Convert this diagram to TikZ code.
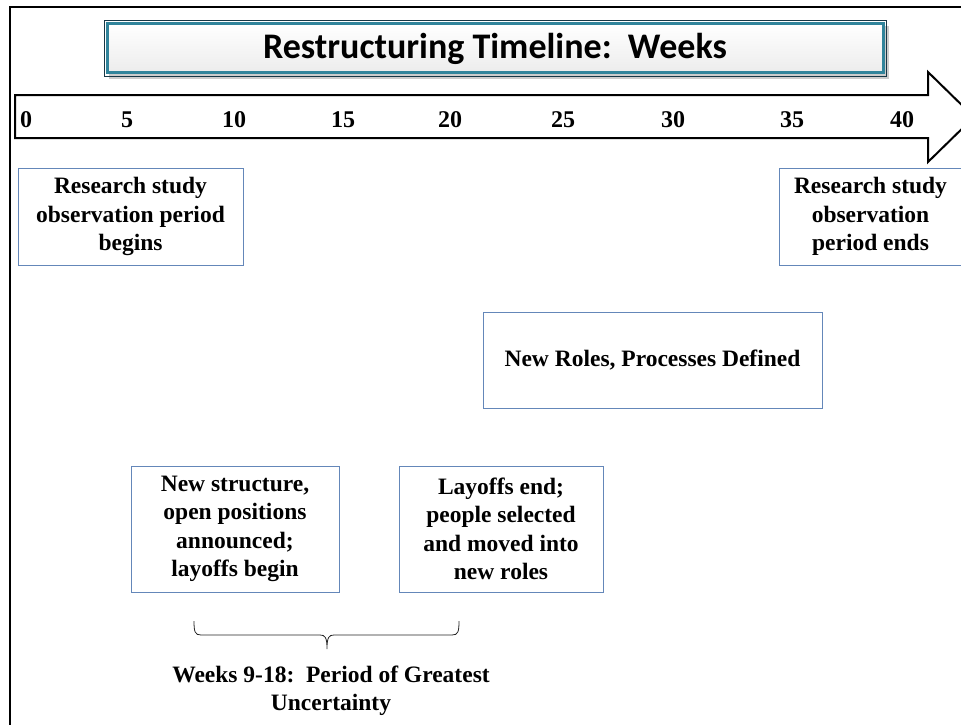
\documentclass[tikz,border=0pt]{standalone}
\usepackage{fontspec}
\setmainfont{Liberation Serif}
\newfontfamily\calibri{Carlito}
\definecolor{boxblue}{RGB}{100,135,185}
\definecolor{titleteal}{RGB}{49,132,155}
\definecolor{titledark}{RGB}{23,55,70}
\begin{document}
\begin{tikzpicture}[x=1pt,y=-1pt,
  evt/.style={draw=boxblue,line width=0.9pt,fill=white,align=center,
    font=\fontsize{23.5}{28.5}\selectfont\bfseries,inner sep=0pt},
  wk/.style={font=\fontsize{24}{28}\selectfont\bfseries,anchor=center,inner sep=0pt},
  titlebox/.style={draw=titleteal,line width=3pt,top color=white,bottom color=gray!15,
    font=\calibri\bfseries\fontsize{36}{40}\selectfont,inner sep=0pt},
  note/.style={align=center,font=\fontsize{23.5}{28.5}\selectfont\bfseries,inner sep=0pt}]
\useasboundingbox (0,0) rectangle (961,725);
\clip (0,0) rectangle (961,725);
% frame
\draw[line width=2pt] (10,740) -- (10,7) -- (980,7);
% title
\fill[gray!40] (109,26) rectangle (889,79);
\node[titlebox,minimum width=776pt,minimum height=49pt] (title) at (495,48.5)
  {Restructuring Timeline:\ \ Weeks};
\draw[titledark,line width=0.8pt] ([shift={(-1.6,1.6)}]title.south west) rectangle ([shift={(1.6,-1.6)}]title.north east);
% timeline arrow
\draw[line width=2pt,fill=white,line join=miter]
  (15,95) -- (928,95) -- (928,72) -- (974,117) -- (928,162) -- (928,138) -- (15,138) -- cycle;
\node[wk] (w0) at (26,120) {0};
\node[wk] (w5) at (127,120) {5};
\node[wk] (w10) at (234,120) {10};
\node[wk] (w15) at (343,120) {15};
\node[wk] (w20) at (450,120) {20};
\node[wk] (w25) at (563,120) {25};
\node[wk] (w30) at (673,120) {30};
\node[wk] (w35) at (792,120) {35};
\node[wk] (w40) at (902,120) {40};
% events
\node[evt,minimum width=225pt,minimum height=97pt] (begin) at (130.5,216.5)
  {Research study\\observation period\\begins};
\node[evt,minimum width=183pt,minimum height=97pt] (ends) at (870.5,216.5)
  {Research study\\observation\\period ends};
\node[evt,minimum width=339pt,minimum height=96pt] (roles) at (652.5,360)
  {New Roles, Processes Defined};
\node[evt,minimum width=208pt,minimum height=126pt] (struct) at (235,529)
  {New structure,\\open positions\\announced;\\layoffs begin};
\node[evt,minimum width=204pt,minimum height=126pt] (layoff) at (501,529)
  {Layoffs end;\\people selected\\and moved into\\new roles};
% brace
\coordinate (bl) at (194,621);
\coordinate (br) at (459,621);
\coordinate (bt) at (327,649);
\draw[line width=0.8pt,black!85]
  (bl) .. controls (194,632) and (195,635) .. (201,635) -- (320,635)
  .. controls (325,635) and (327,637) .. (bt)
  (br) .. controls (459,632) and (458,635) .. (452,635) -- (334,635)
  .. controls (329,635) and (327,637) .. (bt);
\node[note] (period) at (331,691)
  {Weeks 9-18:\ \ Period of Greatest\\Uncertainty};
\end{tikzpicture}
\end{document}
